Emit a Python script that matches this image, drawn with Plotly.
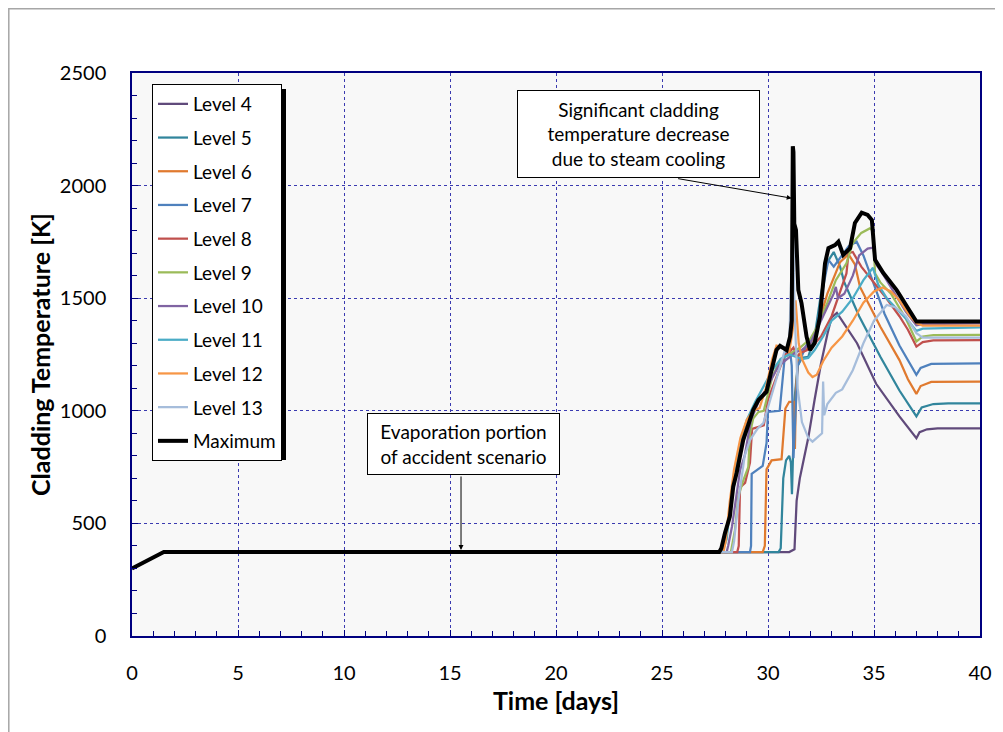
import plotly.graph_objects as go

# ---------------- data ----------------
BASE_DAYS = [0.0, 1.5]
BASE_K = [300, 373]

L4_DAYS = [31.0, 31.25, 31.35, 31.5, 31.7, 31.9, 32.2, 32.5, 32.8, 33.0, 33.25, 33.5, 34.2, 35.1, 36.2, 37.0, 37.15, 37.5, 38.0, 40.0]
L4_K = [373, 385, 600, 700, 790, 880, 1050, 1210, 1340, 1415, 1435, 1400, 1300, 1120, 975, 878, 905, 918, 922, 922]

L5_DAYS = [30.5, 30.6, 30.72, 30.85, 31.0, 31.08, 31.13, 31.17, 31.25, 31.4, 31.6, 31.9, 32.2, 32.5, 32.8, 33.1, 33.4, 33.6, 34.3, 35.3, 36.2, 37.0, 37.25, 37.8, 38.5, 40.0]
L5_K = [373, 390, 700, 780, 800, 770, 630, 800, 1050, 1200, 1235, 1240, 1330, 1520, 1660, 1705, 1640, 1570, 1420, 1240, 1090, 975, 1015, 1030, 1033, 1033]

L6_DAYS = [29.75, 29.85, 29.93, 30.17, 30.64, 30.75, 30.82, 31.0, 31.2, 31.27, 31.32, 31.45, 31.8, 32.2, 32.8, 33.4, 33.8, 34.1, 34.34, 35.3, 36.2, 36.6, 37.0, 37.2, 37.7, 40.0]
L6_K = [373, 400, 740, 780, 785, 900, 1010, 1040, 1040, 830, 1100, 1250, 1270, 1330, 1520, 1660, 1695, 1650, 1550, 1373, 1225, 1140, 1075, 1110, 1128, 1130]

L7_DAYS = [29.15, 29.2, 29.23, 29.5, 29.75, 29.93, 30.0, 30.55, 30.65, 30.8, 31.0, 31.12, 31.2, 31.3, 31.4, 31.8, 32.3, 32.6, 32.85, 33.1, 33.4, 33.8, 34.18, 34.5, 35.0, 35.5, 36.2, 37.0, 37.2, 37.7, 40.0]
L7_K = [373, 400, 720, 740, 755, 856, 995, 1000, 1100, 1250, 1300, 1200, 790, 1000, 1200, 1290, 1350, 1550, 1670, 1640, 1680, 1730, 1751, 1690, 1560, 1430, 1290, 1160, 1190, 1208, 1211]

L8_DAYS = [28.55, 28.62, 28.68, 28.92, 29.15, 29.25, 29.6, 29.8, 30.0, 30.4, 30.8, 31.0, 31.2, 31.35, 31.6, 32.0, 32.5, 33.0, 33.3, 33.5, 33.7, 33.8, 34.0, 34.4, 34.9, 35.5, 36.2, 36.6, 37.0, 37.3, 37.8, 40.0]
L8_K = [373, 400, 660, 680, 770, 920, 930, 935, 1050, 1150, 1250, 1260, 1280, 1240, 1260, 1275, 1330, 1420, 1500, 1560, 1610, 1700, 1705, 1640, 1580, 1510, 1420, 1360, 1285, 1305, 1313, 1314]

L9_DAYS = [28.25, 28.3, 28.44, 28.6, 28.83, 29.07, 29.15, 29.3, 29.55, 29.8, 30.2, 30.6, 31.0, 31.5, 32.0, 32.3, 32.8, 33.2, 33.7, 34.0, 34.4, 34.8, 34.95, 35.05, 35.3, 35.8, 36.5, 37.0, 37.3, 37.8, 40.0]
L9_K = [373, 400, 470, 620, 690, 750, 900, 965, 995, 1000, 1150, 1230, 1250, 1280, 1320, 1370, 1480, 1580, 1655, 1745, 1790, 1810, 1800, 1610, 1570, 1520, 1410, 1308, 1330, 1336, 1337]

L10_DAYS = [28.05, 28.12, 28.3, 28.52, 28.68, 28.9, 29.2, 29.6, 30.0, 30.5, 31.0, 31.3, 31.6, 32.0, 32.4, 32.8, 33.1, 33.2, 33.3, 33.6, 34.0, 34.3, 34.7, 34.97, 35.1, 35.4, 36.0, 36.5, 37.0, 37.3, 40.0]
L10_K = [373, 400, 485, 620, 735, 800, 960, 1050, 1110, 1200, 1240, 1260, 1270, 1300, 1380, 1460, 1520, 1550, 1500, 1520, 1600, 1690, 1720, 1725, 1650, 1610, 1520, 1440, 1380, 1385, 1388]

L11_DAYS = [27.85, 27.95, 28.05, 28.2, 28.4, 28.7, 29.0, 29.4, 29.8, 30.2, 30.6, 31.0, 31.3, 31.6, 31.9, 32.2, 32.6, 33.0, 33.5, 34.0, 34.5, 34.95, 35.2, 35.6, 36.2, 36.7, 37.0, 37.3, 40.0]
L11_K = [373, 400, 430, 560, 700, 860, 960, 1040, 1110, 1180, 1230, 1250, 1240, 1230, 1235, 1270, 1330, 1400, 1440, 1500, 1580, 1635, 1560, 1500, 1440, 1390, 1355, 1365, 1370]

L12_DAYS = [27.9, 28.0, 28.2, 28.4, 28.7, 29.0, 29.3, 29.6, 29.9, 30.2, 30.4, 30.8, 31.0, 31.2, 31.3, 31.45, 31.6, 31.9, 32.1, 32.3, 32.6, 33.0, 33.5, 34.0, 34.5, 35.0, 35.4, 35.8, 36.2, 36.7, 37.0, 37.3, 40.0]
L12_K = [373, 420, 600, 740, 880, 960, 1000, 1012, 1100, 1230, 1290, 1280, 1260, 1380, 1490, 1300, 1230, 1170, 1150, 1160, 1220, 1280, 1330, 1400, 1480, 1530, 1548, 1530, 1490, 1420, 1390, 1378, 1378]

L13_DAYS = [28.3, 28.4, 28.6, 28.9, 29.15, 29.5, 29.78, 30.1, 30.4, 30.8, 31.0, 31.18, 31.25, 31.4, 31.6, 31.9, 32.1, 32.3, 32.55, 32.6, 32.65, 32.8, 33.2, 33.5, 34.0, 34.5, 35.0, 35.6, 36.0, 36.5, 37.0, 37.3, 40.0]
L13_K = [373, 420, 600, 800, 870, 920, 945, 1050, 1140, 1270, 1300, 1850, 1450, 1100, 950, 880, 863, 880, 900, 1130, 980, 1030, 1080, 1095, 1180, 1300, 1400, 1470, 1460, 1420, 1345, 1325, 1325]

MAX_DAYS = [27.7, 27.8, 27.97, 28.2, 28.36, 28.52, 28.83, 29.0, 29.3, 29.55, 29.93, 30.17, 30.4, 30.57, 30.88, 31.04, 31.12, 31.17, 31.2, 31.24, 31.32, 31.43, 31.58, 31.82, 31.98, 32.2, 32.45, 32.69, 32.85, 33.16, 33.32, 33.55, 33.87, 34.1, 34.42, 34.7, 34.9, 35.05, 35.44, 36.07, 36.54, 37.0, 40.0]
MAX_K = [373, 390, 457, 530, 663, 723, 870, 915, 1003, 1048, 1085, 1181, 1270, 1288, 1270, 1329, 1400, 2175, 2150, 1830, 1803, 1536, 1478, 1329, 1270, 1300, 1418, 1655, 1722, 1736, 1751, 1692, 1722, 1834, 1880, 1870, 1847, 1670, 1612, 1536, 1462, 1396, 1396]

SERIES = [
    ("Level 4", L4_DAYS, L4_K, "#604A7B"),
    ("Level 5", L5_DAYS, L5_K, "#31859C"),
    ("Level 6", L6_DAYS, L6_K, "#E07A2F"),
    ("Level 7", L7_DAYS, L7_K, "#4F81BD"),
    ("Level 8", L8_DAYS, L8_K, "#C0504D"),
    ("Level 9", L9_DAYS, L9_K, "#9BBB59"),
    ("Level 10", L10_DAYS, L10_K, "#8064A2"),
    ("Level 11", L11_DAYS, L11_K, "#4BACC6"),
    ("Level 12", L12_DAYS, L12_K, "#F79646"),
    ("Level 13", L13_DAYS, L13_K, "#A6BDDB"),
]

FONT = "Lato"
NAVY = "#000080"
OFF = 8  # page body margin of the written html

fig = go.Figure()
for name, d, k, c in SERIES:
    fig.add_trace(go.Scatter(x=BASE_DAYS + d, y=BASE_K + k, mode="lines", name=name,
                             legendgroup=name, line=dict(color=c, width=2.25)))
fig.add_trace(go.Scatter(x=BASE_DAYS + MAX_DAYS, y=BASE_K + MAX_K, mode="lines", name="Maximum",
                         legendgroup="Maximum", line=dict(color="black", width=4)))

# page-pixel helpers -> paper coords (plot area 132..980 x, 73..636 y on the page)
def px(xp):
    return (xp - 132) / 848.0

def py(yp):
    return (636 - yp) / 563.0

axis_common = dict(
    showline=True, linecolor=NAVY, linewidth=1.5, mirror=True,
    ticks="inside", ticklen=6, tickcolor=NAVY, tickwidth=1,
    showgrid=True, gridcolor="#3A3AB0", griddash="dot", gridwidth=1,
    zeroline=False,
    tickfont=dict(family=FONT, size=20, color="black"),
)

fig.update_xaxes(range=[0, 40], dtick=5, tick0=0,
                 minor=dict(dtick=1, ticks="inside", ticklen=5, tickcolor=NAVY, showgrid=False),
                 title=dict(text="<b>Time [days]</b>", font=dict(family=FONT, size=25, color="black"), standoff=10),
                 ticklabelstandoff=18, **axis_common)
fig.update_yaxes(range=[0, 2500], dtick=500, tick0=0,
                 minor=dict(dtick=100, ticks="inside", ticklen=5, tickcolor=NAVY, showgrid=False),
                 title=dict(text="<b>Cladding Temperature [K]</b>", font=dict(family=FONT, size=25, color="black"), standoff=2),
                 ticklabelstandoff=20, **axis_common)

fig.update_layout(
    width=1003 - OFF, height=732 - OFF,
    margin=dict(l=132 - OFF, r=23, t=73 - OFF, b=96),
    paper_bgcolor="white", plot_bgcolor="#F8F8F8",
    font=dict(family=FONT, color="black"),
    showlegend=True,
    legend=dict(x=px(152), y=py(84), xanchor="left", yanchor="top",
                bgcolor="white", bordercolor="black", borderwidth=1,
                font=dict(family=FONT, size=19, color="black"),
                tracegroupgap=6, traceorder="grouped"),
    shapes=[
        # outer chart frame
        dict(type="rect", xref="paper", yref="paper", x0=px(8.8), x1=px(1000), y0=py(745), y1=py(8.8),
             line=dict(color="#A6A6A6", width=1.5), layer="below"),
        # legend shadow
        dict(type="rect", xref="paper", yref="paper", x0=px(157), x1=px(286), y0=py(460), y1=py(89),
             fillcolor="black", line=dict(width=0), layer="above"),
    ],
    annotations=[
        dict(xref="paper", yref="paper", x=px(638), y=py(134), xanchor="center", yanchor="middle",
             text="Significant cladding<br>temperature decrease<br>due to steam cooling",
             showarrow=False, bgcolor="white", bordercolor="black", borderwidth=1, borderpad=0,
             width=241, height=86, align="center", font=dict(family=FONT, size=19, color="black")),
        dict(x=31.12, y=1944, xref="x", yref="y", ax=25.69, ay=2032, axref="x", ayref="y",
             text="", showarrow=True, arrowhead=2, arrowsize=1, arrowwidth=1, arrowcolor="black"),
        dict(xref="paper", yref="paper", x=px(463), y=py(444), xanchor="center", yanchor="middle",
             text="Evaporation portion<br>of accident scenario",
             showarrow=False, bgcolor="white", bordercolor="black", borderwidth=1, borderpad=0,
             width=191, height=60, align="center", font=dict(family=FONT, size=19, color="black")),
        dict(x=15.52, y=382, xref="x", yref="y", ax=15.52, ay=715, axref="x", ayref="y",
             text="", showarrow=True, arrowhead=2, arrowsize=1, arrowwidth=1, arrowcolor="black"),
    ],
)

fig.write_html("out.html")
